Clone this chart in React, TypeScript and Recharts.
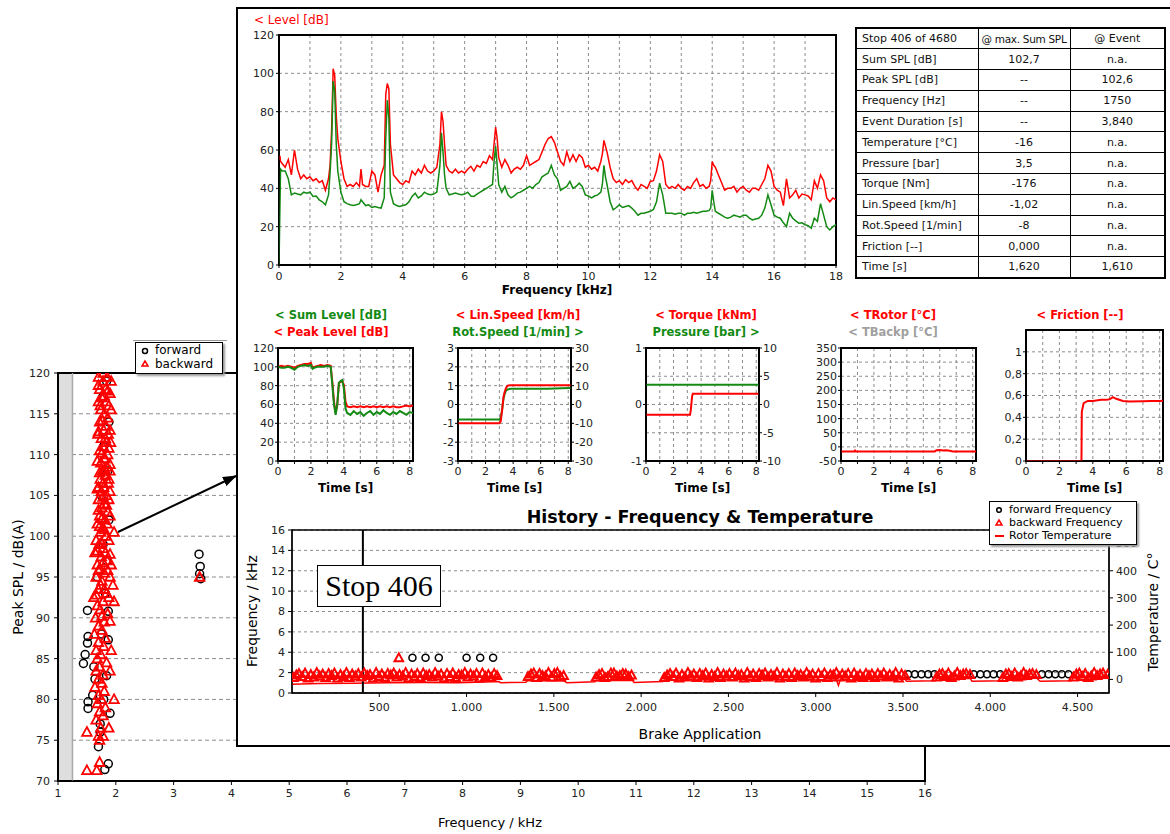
import React from 'react';
import {
  ComposedChart,
  Line,
  Scatter,
  XAxis,
  YAxis,
  CartesianGrid,
  ReferenceArea,
  ReferenceLine,
} from 'recharts';

const RED = '#ff0000';
const GREEN = '#138a13';
const GRID = '#8c8c8c';
const FONT = '"DejaVu Sans", Verdana, sans-serif';
const TICK = { fontSize: 11, fill: '#222' };

// ---- spectrum (level over frequency)
const spectrumFreq = [
  0, 0.03, 0.05, 0.1, 0.2, 0.3, 0.4, 0.5, 0.6, 0.7,
  0.8, 0.9, 1.0, 1.1, 1.2, 1.3, 1.4, 1.5, 1.6, 1.65,
  1.7, 1.75, 1.8, 1.85, 1.9, 2.0, 2.1, 2.2, 2.3, 2.4,
  2.5, 2.6, 2.65, 2.7, 2.8, 2.9, 3.0, 3.1, 3.2, 3.3,
  3.4, 3.45, 3.5, 3.55, 3.6, 3.7, 3.8, 3.9, 4.0, 4.1,
  4.2, 4.3, 4.4, 4.5, 4.6, 4.7, 4.8, 4.9, 5.0, 5.1,
  5.2, 5.25, 5.3, 5.35, 5.4, 5.5, 5.6, 5.7, 5.8, 5.9,
  6.0, 6.1, 6.2, 6.3, 6.4, 6.5, 6.6, 6.7, 6.8, 6.9,
  6.95, 7.0, 7.05, 7.1, 7.2, 7.3, 7.4, 7.5, 7.6, 7.7,
  7.8, 7.9, 8.0, 8.1, 8.2, 8.3, 8.4, 8.5, 8.6, 8.7,
  8.8, 8.9, 9.0, 9.1, 9.2, 9.3, 9.4, 9.5, 9.6, 9.7,
  9.8, 9.9, 10.0, 10.1, 10.2, 10.3, 10.4, 10.45, 10.5, 10.55,
  10.6, 10.7, 10.8, 10.9, 11.0, 11.1, 11.2, 11.3, 11.4, 11.5,
  11.6, 11.7, 11.8, 11.9, 12.0, 12.1, 12.2, 12.3, 12.4, 12.5,
  12.6, 12.7, 12.8, 12.9, 13.0, 13.1, 13.2, 13.3, 13.4, 13.5,
  13.6, 13.7, 13.8, 13.9, 13.95, 14.0, 14.05, 14.1, 14.2, 14.3,
  14.4, 14.5, 14.6, 14.7, 14.8, 14.9, 15.0, 15.1, 15.2, 15.3,
  15.4, 15.5, 15.6, 15.7, 15.8, 15.9, 16.0, 16.1, 16.2, 16.3,
  16.4, 16.5, 16.6, 16.7, 16.8, 16.9, 17.0, 17.1, 17.2, 17.3,
  17.4, 17.5, 17.6, 17.7, 17.8, 17.9, 18.0,
];
const spectrumPeak = [
  55, 57, 54, 53, 51, 55, 47, 60, 50, 45,
  47, 45, 46, 44, 45, 43, 44, 39, 45, 52,
  70, 102.4, 99, 78, 66, 54, 45, 41, 42, 41,
  43, 41, 50, 42, 41, 41, 49, 47, 38, 47,
  52, 89, 94.7, 92, 63, 47, 45, 43, 42, 44,
  43, 49, 47, 50, 48, 52, 49, 48, 49, 51,
  63, 80, 75, 63, 52, 49, 48, 50, 48, 49,
  48, 50, 51.5, 49, 52, 51, 54, 53, 57, 55,
  63, 72, 66, 56, 51, 55, 52, 48, 50, 51,
  50, 52, 57, 52, 53, 54, 55, 59, 63, 66,
  67, 64, 59, 54, 52, 59, 54, 57.5, 54, 57.5,
  56, 51, 52, 50, 51, 49, 54, 58, 65, 62,
  59, 51, 45, 43, 44, 42, 44.5, 43, 44, 41,
  39, 42, 41, 40, 43.6, 44, 49, 57.5, 54, 42,
  40, 41, 40, 42, 40, 39, 41, 40, 43, 45,
  41, 42, 40, 41, 44, 54, 52, 51, 47, 43,
  39, 40, 40, 41, 38, 40, 41, 39, 38, 40,
  40, 39, 42, 45, 52, 49, 41, 39, 38, 31,
  45, 35, 36.6, 39, 35, 37, 36.6, 36, 34, 44,
  40, 47, 44, 35, 33, 35, 34,
];
const spectrumSum = [
  0, 30, 50, 49, 49, 45, 36.6, 37.5, 37, 36.6,
  38, 37.5, 38, 35.8, 36, 34, 33, 31.4, 36.6, 48,
  63, 96, 90.7, 63, 49, 38, 33, 32, 31.4, 31,
  31.4, 32, 34, 33, 31, 31.4, 30, 30.5, 30, 29.7,
  35, 66, 86, 77, 38, 32, 31, 30.5, 31, 31.4,
  33, 35.8, 37.5, 35, 36, 38, 37, 36.6, 37, 38,
  52, 69, 59, 47, 40, 36.6, 37, 37.5, 37, 36.6,
  37, 38, 36, 35.8, 37, 38, 39, 40, 41, 42,
  54, 62, 52, 42, 38, 41, 36.6, 35, 36, 37.5,
  38, 39, 40, 41, 40, 42, 43, 46, 47, 48,
  52, 47, 45, 39, 40, 41, 43.6, 40, 41, 42.7,
  41, 36.6, 36, 35, 36, 36.6, 38, 42, 52, 46,
  42, 33, 28.8, 30, 31.4, 30, 30.5, 31, 29.7, 28,
  26, 27, 27, 27.5, 28, 29, 33, 42.7, 36.6, 27,
  27, 27, 26.5, 27, 27, 26, 27, 27, 27.5, 27,
  27.5, 28, 28, 28.5, 29.7, 39, 33, 28, 27, 26,
  25, 24.4, 25, 26, 25.5, 25, 26, 26, 24.5, 23.5,
  24, 24.4, 26, 29.7, 36.6, 31.4, 26, 25, 24.4, 22,
  20, 27, 24.4, 23, 21.8, 22, 21, 20.5, 19.2, 24.4,
  22.7, 32, 26, 20, 18.3, 20, 21,
];
const spectrumTicks = [0, 1, 2, 3, 4, 5, 6, 7, 8, 9, 10, 11, 12, 13, 14, 15, 16, 17, 18];
const spectrumTickLabels = ['0', '', '2', '', '4', '', '6', '', '8', '', '10', '', '12', '', '14', '', '16', '', '18'];
const levelTicks = [0, 20, 40, 60, 80, 100, 120];

// ---- result table
const tableRows = [
  ['Stop 406 of 4680', '@ max. Sum SPL', '@ Event'],
  ['Sum SPL [dB]', '102,7', 'n.a.'],
  ['Peak SPL [dB]', '--', '102,6'],
  ['Frequency [Hz]', '--', '1750'],
  ['Event Duration [s]', '--', '3,840'],
  ['Temperature [°C]', '-16', 'n.a.'],
  ['Pressure [bar]', '3,5', 'n.a.'],
  ['Torque [Nm]', '-176', 'n.a.'],
  ['Lin.Speed [km/h]', '-1,02', 'n.a.'],
  ['Rot.Speed [1/min]', '-8', 'n.a.'],
  ['Friction [--]', '0,000', 'n.a.'],
  ['Time [s]', '1,620', '1,610'],
];

// ---- time signals of stop 406
const timeTicks = [0, 1, 2, 3, 4, 5, 6, 7, 8];
const timeTickLabels = ['0', '', '2', '', '4', '', '6', '', '8'];

const levelTime = [
  0, 0.2, 0.4, 0.6, 0.8, 1.0, 1.2, 1.4, 1.6, 1.8,
  2.0, 2.1, 2.2, 2.4, 2.6, 2.8, 3.0, 3.2, 3.3, 3.4,
  3.5, 3.6, 3.7, 3.8, 3.9, 4.0, 4.1, 4.2, 4.4, 4.6,
  4.8, 5.0, 5.2, 5.4, 5.6, 5.8, 6.0, 6.2, 6.4, 6.6,
  6.8, 7.0, 7.2, 7.4, 7.6, 7.8, 8.0, 8.2,
];
const peakLevel = [
  100, 101, 100, 101, 100, 99, 101, 102, 103, 103,
  104, 99, 100, 101, 102, 101, 102, 101, 84, 63,
  51, 60, 83, 84, 85, 81, 63, 58, 57, 58,
  57, 58, 57, 58, 57, 58, 57, 58, 57, 58,
  57, 58, 57, 57, 58, 59, 58, 59,
];
const sumLevel = [
  100, 99, 99, 100, 99, 97, 100, 101, 102, 101,
  102, 98, 99, 100, 100, 100, 101, 100, 81, 60,
  49, 60, 83, 85, 86, 77, 56, 51, 49, 53,
  50, 52, 48, 51, 53, 49, 52, 50, 54, 51,
  49, 52, 50, 53, 51, 49, 52, 51,
];

const speedTime = [0, 3.0, 3.1, 3.2, 3.3, 3.4, 3.5, 3.6, 3.8, 4.5, 5.5, 6.5, 7.5, 8.2];
const linSpeed = [-1, -1, -0.9, -0.3, 0.4, 0.7, 0.9, 1.0, 1.02, 1.02, 1.02, 1.02, 1.02, 1.02];
const rotSpeed = [-8, -8, -7, -3, 3, 6, 7.5, 8, 8.3, 8.4, 8.3, 8.4, 8.6, 8.7];

const torqueTime = [0, 3.2, 3.25, 3.35, 3.4, 8.2];
const torque = [-0.18, -0.18, -0.1, 0.15, 0.19, 0.19];
const pressure = [3.5, 3.5, 3.5, 3.5, 3.5, 3.5];

const rotorTime = [0, 0.8, 0.85, 0.9, 5.7, 5.8, 6.0, 6.2, 6.4, 6.6, 6.8, 8.2];
const rotorTemp = [-16, -16, -13, -16, -16, -12, -11, -13, -12, -14, -16, -16];

const frictionTime = [0, 3.32, 3.34, 3.45, 3.7, 4.0, 4.5, 4.8, 5.0, 5.2, 5.4, 5.8, 6.2, 7.0, 7.5, 8.0, 8.2];
const friction = [0, 0, 0.45, 0.53, 0.55, 0.55, 0.56, 0.56, 0.565, 0.585, 0.57, 0.55, 0.545, 0.548, 0.55, 0.55, 0.552];
const frictionTicks = [0, 0.2, 0.4, 0.6, 0.8, 1];
const frictionTickLabels = ['0', '0,2', '0,4', '0,6', '0,8', '1'];

// ---- history over brake applications
const historyTicks = [500, 1000, 1500, 2000, 2500, 3000, 3500, 4000, 4500];
const historyTickLabels = ['500', '1.000', '1.500', '2.000', '2.500', '3.000', '3.500', '4.000', '4.500'];
const historyFreqTicks = [0, 2, 4, 6, 8, 10, 12, 14, 16];
const historyTempTicks = [0, 100, 200, 300, 400, 500];

const backwardStops = [
  8, 25, 40, 58, 75, 92, 108, 125, 142, 159,
  176, 193, 210, 227, 243, 261, 278, 295, 312, 329,
  345, 363, 380, 397, 414, 431, 447, 465, 482, 499,
  515, 532, 549, 566, 583, 600, 616, 634, 651, 668,
  685, 702, 718, 735, 752, 769, 786, 803, 820, 837,
  854, 871, 888, 905, 921, 938, 955, 972, 990, 1006,
  1023, 1040, 1057, 1074, 1091, 1108, 1125, 1142, 1158, 1175,
  1352, 1369, 1385, 1402, 1418, 1435, 1452, 1469, 1486, 1503, 1520, 1538, 1556,
  1742, 1759, 1776, 1793, 1810, 1827, 1844, 1861, 1878, 1895, 1912, 1929, 1945,
  2132, 2149, 2166, 2183, 2200, 2217, 2234, 2251, 2268, 2285,
  2302, 2319, 2336, 2353, 2370, 2387, 2404, 2421, 2438, 2455,
  2472, 2489, 2506, 2523, 2540, 2557, 2574, 2591, 2608, 2625,
  2642, 2659, 2676, 2693, 2710, 2727, 2744, 2761, 2778, 2795,
  2812, 2829, 2846, 2863, 2880, 2897, 2914, 2931, 2948, 2965,
  2982, 2999, 3016, 3033, 3050, 3067, 3084, 3101, 3118, 3135,
  3152, 3169, 3186, 3203, 3220, 3237, 3254, 3271, 3288, 3305,
  3322, 3339, 3356, 3373, 3390, 3407, 3424, 3441, 3458, 3475,
  3492, 3512,
  3692, 3709, 3726, 3743, 3760, 3777, 3794, 3811, 3828, 3845, 3862, 3884,
  4072, 4089, 4106, 4123, 4140, 4157, 4174, 4191, 4208, 4225, 4242, 4264,
  4476, 4493, 4510, 4527, 4544, 4561, 4578, 4595, 4612, 4629, 4646, 4672,
  612,
];
const backwardFreq = [
  1.5, 1.75, 1.9, 1.6, 1.95, 1.45, 1.8, 1.55, 2.0, 1.65,
  1.85, 1.5, 1.9, 1.7, 1.95, 1.45, 1.8, 1.6, 2.0, 1.5,
  1.85, 1.65, 1.9, 1.55, 1.95, 1.7, 1.8, 1.45, 2.0, 1.6,
  1.85, 1.5, 1.9, 1.75, 1.95, 1.55, 1.8, 1.65, 2.0, 1.45,
  1.85, 1.6, 1.9, 1.5, 1.95, 1.7, 1.8, 1.55, 2.0, 1.65,
  1.85, 1.45, 1.9, 1.6, 1.95, 1.5, 1.8, 1.75, 2.0, 1.55,
  1.85, 1.65, 1.9, 1.45, 1.95, 1.6, 1.8, 1.5, 1.9, 1.7,
  1.6, 1.85, 1.95, 1.5, 1.9, 1.7, 1.65, 2.0, 1.55, 1.9, 2.0, 1.6, 1.7,
  1.55, 1.8, 1.9, 1.5, 1.6, 1.95, 1.95, 1.65, 1.7, 1.9, 1.85, 1.6, 1.75,
  1.5, 1.75, 1.9, 1.6, 1.95, 1.45, 1.8, 1.55, 2.0, 1.65,
  1.85, 1.5, 1.9, 1.7, 1.95, 1.45, 1.8, 1.6, 2.0, 1.5,
  1.85, 1.65, 1.9, 1.55, 1.95, 1.7, 1.8, 1.45, 2.0, 1.6,
  1.85, 1.5, 1.9, 1.75, 1.95, 1.55, 1.8, 1.65, 2.0, 1.45,
  1.85, 1.6, 1.9, 1.5, 1.95, 1.7, 1.8, 1.55, 2.0, 1.65,
  1.85, 1.45, 1.9, 1.6, 1.95, 1.5, 1.8, 1.75, 2.0, 1.55,
  1.85, 1.65, 1.9, 1.45, 1.95, 1.6, 1.8, 1.5, 1.9, 1.7,
  1.85, 1.5, 1.9, 1.65, 1.95, 1.55, 1.8, 1.6, 2.0, 1.45,
  1.85, 1.7,
  1.55, 1.85, 1.9, 1.6, 1.95, 1.5, 1.65, 2.0, 1.7, 1.85, 1.9, 1.8,
  1.5, 1.85, 1.9, 1.6, 1.95, 1.55, 1.65, 2.0, 1.7, 1.85, 1.9, 1.8,
  1.55, 1.85, 1.95, 1.6, 1.9, 1.5, 1.65, 2.0, 1.7, 1.85, 1.95, 1.8,
  3.45,
];
const forwardStops = [
  690, 765, 841, 1000, 1078, 1152,
  3530, 3568, 3606, 3644, 3680,
  3905, 3943, 3981, 4019, 4057,
  4296, 4334, 4372, 4410, 4448,
];
const forwardFreq = [
  3.45, 3.45, 3.45, 3.45, 3.45, 3.45,
  1.85, 1.85, 1.85, 1.85, 1.85,
  1.85, 1.85, 1.85, 1.85, 1.85,
  1.85, 1.85, 1.85, 1.85, 1.85,
];
const rotorStops = [
  0, 150, 350, 550, 750, 950, 1150, 1185, 1195, 1340, 1350, 1560, 1575, 1735, 1745, 1950, 1960, 2125,
  2135, 2500, 2800, 3120, 3130, 3140, 3510, 3520, 3685, 3695, 3885, 3895, 4065, 4075, 4265, 4285,
  4465, 4475, 4680,
];
const rotorHistoryTemp = [
  -18, -15, -14, -12, -11, -12, -9, -8, -12, -10, -4, -6, -12, -9, -3, -4, -11, -8,
  -2, -1, 0, -3, -22, -3, 2, -7, -5, 3, 4, -7, -5, 4, 5, -7,
  -5, 6, 7,
];

// ---- peak SPL over frequency (all stops)
const splFreqTicks = [1, 2, 3, 4, 5, 6, 7, 8, 9, 10, 11, 12, 13, 14, 15, 16];
const splLevelTicks = [70, 75, 80, 85, 90, 95, 100, 105, 110, 115, 120];
const splBackwardFreq = [
  1.85, 1.78, 1.82, 1.9, 1.76, 1.84, 1.88, 1.74, 1.8, 1.86,
  1.72, 1.83, 1.79, 1.87, 1.75, 1.84, 1.91, 1.78, 1.72, 1.86,
  1.8, 1.74, 1.85, 1.77, 1.82, 1.73, 1.87, 1.79, 1.75, 1.84,
  1.7, 1.8, 1.76, 1.86, 1.72, 1.81, 1.68, 1.77, 1.74, 1.97,
  1.83, 1.66, 1.71, 1.78, 1.64, 1.75, 1.85, 1.68, 1.92, 1.73,
  1.8, 1.66, 1.9, 1.76, 1.95, 1.7, 1.84, 1.62, 1.97, 1.78,
  1.68, 1.73, 1.86, 1.65, 1.8, 1.7, 1.76, 1.63, 1.82, 1.7,
  1.79, 1.66, 1.92, 1.74, 1.68, 1.84, 1.72, 1.66, 1.78, 1.9,
  1.7, 1.76, 1.64, 1.8, 1.7, 1.97, 1.75, 1.68, 1.82, 1.72,
  1.78, 1.66, 1.74, 1.88, 1.5, 1.7, 1.78, 1.72, 1.5, 1.67,
  1.72, 3.45, 1.7, 1.73, 1.69, 1.9, 1.7, 1.88, 1.78, 1.81,
  1.7, 1.92, 1.72, 1.86, 1.8, 1.7, 1.92, 1.77, 1.9, 1.7,
  1.82, 1.88, 1.76, 1.68, 1.9, 1.81, 1.72, 1.88, 1.78, 1.68,
  1.9, 1.78, 1.84, 1.7, 1.9, 1.76, 1.85, 1.72, 1.8, 1.88,
  1.75, 1.68, 1.82, 1.9, 1.78, 1.7, 1.86, 1.74, 1.8, 1.88,
  1.66, 1.76, 1.9,
];
const splBackwardLevel = [
  119.5, 119, 118, 117.5, 117, 116.5, 116, 115.5, 115, 114.5,
  114, 113.5, 113, 112.5, 112, 111.5, 111.5, 111, 110.5, 110,
  109.5, 109, 108.5, 108, 107.5, 107, 106.5, 106, 105.5, 105,
  104.5, 104, 103.5, 103, 102.5, 102, 101.5, 101, 100.5, 100.5,
  100, 99.5, 99, 98.5, 98, 97.5, 97, 96.5, 96.5, 96,
  95.5, 95, 95, 94.5, 94, 93.5, 93, 92.5, 92, 92,
  91.5, 91, 90.5, 90, 89.5, 89, 88.5, 88, 87.5, 87,
  86.5, 86, 86, 85.5, 85, 84.5, 84, 83.5, 83, 83.5,
  82.5, 82, 81.5, 81, 80.5, 80, 80, 79.5, 79, 78.5,
  78, 77.5, 76.5, 76.5, 76, 75.5, 75.5, 75, 71.3, 71.3,
  72.3, 95, 118.5, 116, 112.5, 108, 106, 104.5, 120, 109.5,
  119.5, 119, 118, 117.8, 117.2, 116.5, 115.5, 114.2, 113, 112.8,
  112, 110.8, 110.2, 109.2, 108.8, 108.2, 107.8, 107, 106.5, 105.8,
  105.5, 104.8, 103.8, 103.2, 102.5, 102.2, 101.5, 101.2, 100.8, 99.5,
  99.2, 98.2, 98, 97.8, 96.8, 95.8, 95.8, 94, 93.5, 92.5,
  92.8, 90.2, 89.6,
];
const splForwardFreq = [
  1.44, 1.52, 1.51, 1.51, 1.52, 1.52, 1.47, 1.7, 1.87, 1.81,
  1.87, 1.87, 1.9, 1.84, 1.64, 1.73, 1.73, 1.79, 1.6, 1.62,
  1.75, 1.82, 1.68, 1.85, 1.78, 1.88, 1.75, 1.86, 1.79, 1.88,
  1.77, 1.84, 3.44, 3.46, 3.47, 3.45,
];
const splForwardLevel = [
  84.4, 87.7, 86.9, 90.9, 79.7, 78.9, 85.5, 74.2, 72.1, 71.4,
  90.8, 87.3, 78.3, 82.9, 82.5, 76, 77, 80, 80.5, 84,
  88, 93, 95, 97, 99, 102, 105, 108, 111, 114,
  117, 119, 97.8, 96.3, 94.8, 95.4,
];

const zip = (xs: number[], ys: number[]) => xs.map((x, i) => ({ x, y: ys[i] }));

const ring = (r: number) => (p: any) => (
  <circle cx={p.cx} cy={p.cy} r={r} fill="none" stroke="#000" strokeWidth={1.5} />
);
const tri = (s: number, w: number) => (p: any) => (
  <path
    d={`M${p.cx},${p.cy - s} L${p.cx + s * 0.95},${p.cy + s * 0.75} L${p.cx - s * 0.95},${p.cy + s * 0.75} Z`}
    fill="none"
    stroke={RED}
    strokeWidth={w}
  />
);

function Text({ x, y, text, size = 12, color = '#000', bold = false, rotate = false, family }: {
  x: number; y: number; text: string; size?: number; color?: string; bold?: boolean; rotate?: boolean; family?: string;
}) {
  return (
    <div
      style={{
        position: 'absolute',
        left: x,
        top: y,
        transform: `translate(-50%, -50%)${rotate ? ' rotate(-90deg)' : ''}`,
        whiteSpace: 'nowrap',
        fontSize: size,
        fontWeight: bold ? 700 : 400,
        color,
        lineHeight: 1,
        fontFamily: family,
      }}
    >
      {text}
    </div>
  );
}

function PeakSplChart() {
  const LW = 50, TOP = 10, BOTTOM = 30, RIGHT = 12;
  const plot = { x: 58, y: 373, w: 867, h: 408 };
  return (
    <>
      <div style={{ position: 'absolute', left: plot.x - LW, top: plot.y - TOP }}>
        <ComposedChart width={LW + plot.w + RIGHT} height={TOP + plot.h + BOTTOM} margin={{ top: TOP, right: RIGHT, left: 0, bottom: 0 }}>
          <ReferenceArea x1={1} x2={1.25} y1={70} y2={120} fill="#dedede" fillOpacity={1} stroke="none" />
          <CartesianGrid vertical={false} stroke={GRID} strokeDasharray="4 3" />
          <ReferenceLine x={1.25} stroke="#a8a8a8" strokeWidth={1.5} />
          <XAxis type="number" dataKey="x" domain={[1, 16]} ticks={splFreqTicks} interval={0} allowDataOverflow height={BOTTOM}
            tickSize={4} tickMargin={4} stroke="#000" tick={TICK} />
          <YAxis type="number" dataKey="y" domain={[70, 120]} ticks={splLevelTicks} interval={0} allowDataOverflow width={LW}
            tickSize={4} tickMargin={4} stroke="#000" tick={TICK} />
          <Scatter data={zip(splForwardFreq, splForwardLevel)} shape={ring(4)} isAnimationActive={false} />
          <Scatter data={zip(splBackwardFreq, splBackwardLevel)} shape={tri(5, 1.8)} isAnimationActive={false} />
          <ReferenceArea x1={1} x2={16} y1={70} y2={120} fill="none" stroke="#000" strokeWidth={2} />
        </ComposedChart>
      </div>
      <Text x={18} y={577} text="Peak SPL / dB(A)" size={14} rotate />
      <Text x={490} y={822} text="Frequency / kHz" size={13} />
      <div style={{ position: 'absolute', left: 133, top: 340, width: 94, height: 1, background: '#999' }} />
      <div style={{ position: 'absolute', left: 135, top: 342, width: 88, height: 32, border: '1px solid #000', background: '#fff', boxShadow: '2px 2px 2px #999', boxSizing: 'border-box', fontSize: 12 }}>
        <svg width={14} height={30} style={{ position: 'absolute', left: 2, top: 0 }}>
          <circle cx={7} cy={8} r={2.5} fill="none" stroke="#000" strokeWidth={1.5} />
          <path d="M7,18 L10,23 L4,23 Z" fill="none" stroke={RED} strokeWidth={1.5} />
        </svg>
        <div style={{ position: 'absolute', left: 19, top: 1, lineHeight: '13px' }}>forward</div>
        <div style={{ position: 'absolute', left: 19, top: 15, lineHeight: '13px' }}>backward</div>
      </div>
    </>
  );
}

function Arrow() {
  return (
    <svg width={1170} height={834} style={{ position: 'absolute', left: 0, top: 0 }}>
      <defs>
        <marker id="head" markerWidth="14" markerHeight="10" refX="13" refY="5" orient="auto" markerUnits="userSpaceOnUse">
          <path d="M0,0 L14,5 L0,10 Z" fill="#000" />
        </marker>
      </defs>
      <line x1={118} y1={532} x2={236} y2={476} stroke="#000" strokeWidth={2} markerEnd="url(#head)" />
    </svg>
  );
}

function SpectrumChart() {
  const LW = 36, TOP = 8, RIGHT = 12, BOTTOM = 22;
  const plot = { x: 279, y: 35, w: 557, h: 230 };
  const data = spectrumFreq.map((x, i) => ({ x, peak: spectrumPeak[i], sum: spectrumSum[i] }));
  return (
    <>
      <div style={{ position: 'absolute', left: 254, top: 13, fontSize: 12, color: RED, whiteSpace: 'nowrap', lineHeight: '14px' }}>
        &lt; Level [dB]
      </div>
      <div style={{ position: 'absolute', left: plot.x - LW, top: plot.y - TOP }}>
        <ComposedChart data={data} width={LW + plot.w + RIGHT} height={TOP + plot.h + BOTTOM} margin={{ top: TOP, right: RIGHT, left: 0, bottom: 0 }}>
          <CartesianGrid stroke={GRID} strokeDasharray="3 3" />
          <XAxis type="number" dataKey="x" domain={[0, 18]} ticks={spectrumTicks} interval={0} allowDataOverflow height={BOTTOM}
            tickFormatter={(v) => spectrumTickLabels[spectrumTicks.indexOf(v)]}
            tickSize={3} tickMargin={4} stroke="#000" tick={TICK} />
          <YAxis type="number" domain={[0, 120]} ticks={levelTicks} interval={0} allowDataOverflow width={LW}
            tickSize={3} tickMargin={2} stroke="#000" tick={TICK} />
          <Line dataKey="peak" stroke={RED} strokeWidth={1.5} dot={false} type="linear" isAnimationActive={false} />
          <Line dataKey="sum" stroke={GREEN} strokeWidth={1.5} dot={false} type="linear" isAnimationActive={false} />
          <ReferenceArea x1={0} x2={18} y1={0} y2={120} fill="none" stroke="#000" strokeWidth={2} />
        </ComposedChart>
      </div>
      <Text x={557} y={290} text="Frequency [kHz]" size={12} bold />
    </>
  );
}

function ResultTable() {
  return (
    <table
      style={{
        position: 'absolute', left: 855, top: 27, width: 309, height: 251, borderCollapse: 'collapse',
        tableLayout: 'fixed', fontSize: 11, border: '2px solid #000', fontFamily: FONT,
      }}
    >
      <colgroup>
        <col style={{ width: 122 }} />
        <col style={{ width: 92 }} />
        <col style={{ width: 95 }} />
      </colgroup>
      <tbody>
        {tableRows.map((row, i) => (
          <tr key={i} style={{ height: 20.8 }}>
            {row.map((cell, j) => (
              <td
                key={j}
                style={{
                  border: '1px solid #000', padding: j === 0 ? '0 0 0 5px' : 0, textAlign: j === 0 ? 'left' : 'center',
                  whiteSpace: 'nowrap', overflow: 'hidden', color: '#111',
                  fontSize: i === 0 && j === 1 ? 10.5 : 11,
                  letterSpacing: i === 0 && j === 1 ? -0.3 : 0,
                }}
              >
                {cell}
              </td>
            ))}
          </tr>
        ))}
      </tbody>
    </table>
  );
}

interface TimeSeries { data: { x: number; y: number }[]; color: string; axis: 'l' | 'r' }

function TimeChart({ plot, titles, titleX, lDomain, lTicks, lLabels, rDomain, rTicks, gridAxis = 'l', series }: {
  plot: { x: number; y: number; w: number; h: number };
  titles: { text: string; color: string }[];
  titleX: number;
  lDomain: [number, number];
  lTicks: number[];
  lLabels?: string[];
  rDomain?: [number, number];
  rTicks?: number[];
  gridAxis?: 'l' | 'r';
  series: TimeSeries[];
}) {
  const LW = 34, RW = rDomain ? 34 : 8, TOP = 8, BOTTOM = 20;
  return (
    <>
      {titles.map((t, i) => (
        <Text key={i} x={titleX} y={316 + i * 17} text={t.text} size={11.5} color={t.color} bold />
      ))}
      <div style={{ position: 'absolute', left: plot.x - LW, top: plot.y - TOP }}>
        <ComposedChart width={LW + plot.w + RW} height={TOP + plot.h + BOTTOM}
          margin={{ top: TOP, right: rDomain ? 0 : RW, left: 0, bottom: 0 }}>
          <CartesianGrid yAxisId={gridAxis} stroke={GRID} strokeDasharray="3 3" />
          <XAxis type="number" dataKey="x" domain={[0, 8.2]} ticks={timeTicks} interval={0} allowDataOverflow height={BOTTOM}
            tickFormatter={(v) => timeTickLabels[timeTicks.indexOf(v)]}
            tickSize={3} tickMargin={3} stroke="#000" tick={TICK} />
          <YAxis yAxisId="l" type="number" dataKey="y" domain={lDomain} ticks={lTicks} interval={0} allowDataOverflow width={LW}
            tickFormatter={(v) => (lLabels ? lLabels[lTicks.indexOf(v)] : String(v))}
            tickSize={3} tickMargin={1} stroke="#000" tick={TICK} />
          {rDomain && (
            <YAxis yAxisId="r" orientation="right" type="number" dataKey="y" domain={rDomain} ticks={rTicks} interval={0}
              allowDataOverflow width={RW} tickSize={3} tickMargin={1} stroke="#000" tick={TICK} />
          )}
          {series.map((s, i) => (
            <Line key={i} yAxisId={s.axis} data={s.data} dataKey="y" stroke={s.color} strokeWidth={2}
              dot={false} type="linear" isAnimationActive={false} />
          ))}
          <ReferenceArea yAxisId="l" x1={0} x2={8.2} y1={lDomain[0]} y2={lDomain[1]} fill="none" stroke="#000" strokeWidth={2} />
        </ComposedChart>
      </div>
      <Text x={plot.x + plot.w / 2} y={488} text="Time [s]" size={12} bold />
    </>
  );
}

function HistoryChart() {
  const LW = 40, RW = 45, TOP = 8, BOTTOM = 26;
  const plot = { x: 292, y: 530, w: 817, h: 163 };
  return (
    <>
      <Text x={700} y={518} text="History - Frequency & Temperature" size={17.5} bold />
      <div style={{ position: 'absolute', left: plot.x - LW, top: plot.y - TOP }}>
        <ComposedChart width={LW + plot.w + RW} height={TOP + plot.h + BOTTOM} margin={{ top: TOP, right: 0, left: 0, bottom: 0 }}>
          <CartesianGrid yAxisId="f" vertical={false} stroke={GRID} strokeDasharray="3 3" />
          <XAxis type="number" dataKey="x" domain={[0, 4680]} ticks={historyTicks} interval={0} allowDataOverflow height={BOTTOM}
            tickFormatter={(v) => historyTickLabels[historyTicks.indexOf(v)]}
            tickSize={4} tickMargin={6} stroke="#000" tick={TICK} />
          <YAxis yAxisId="f" type="number" dataKey="y" domain={[0, 16]} ticks={historyFreqTicks} interval={0} allowDataOverflow width={LW}
            tickSize={4} tickMargin={3} stroke="#000" tick={TICK} />
          <YAxis yAxisId="t" orientation="right" type="number" dataKey="y" domain={[-50, 550]} ticks={historyTempTicks} interval={0}
            allowDataOverflow width={RW} tickSize={4} tickMargin={3} stroke="#000" tick={TICK} />
          <Line yAxisId="t" data={zip(rotorStops, rotorHistoryTemp)} dataKey="y" stroke={RED} strokeWidth={1.5}
            dot={false} type="linear" isAnimationActive={false} />
          <Scatter yAxisId="f" data={zip(forwardStops, forwardFreq)} shape={ring(3.5)} isAnimationActive={false} />
          <Scatter yAxisId="f" data={zip(backwardStops, backwardFreq)} shape={tri(4.5, 2)} isAnimationActive={false} />
          <ReferenceLine yAxisId="f" x={406} stroke="#000" strokeWidth={2} />
          <ReferenceArea yAxisId="f" x1={0} x2={4680} y1={0} y2={16} fill="none" stroke="#000" strokeWidth={1.5} />
        </ComposedChart>
      </div>
      <Text x={252} y={611} text="Frequency / kHz" size={14} rotate />
      <Text x={1153} y={612} text="Temperature / C°" size={14} rotate />
      <Text x={700} y={734} text="Brake Application" size={14} />
      <div style={{ position: 'absolute', left: 317, top: 565, width: 124, height: 42, border: '1.5px solid #000', background: '#fff', boxSizing: 'border-box' }}>
        <Text x={61} y={20} text="Stop 406" size={30} family='"Liberation Serif", "Times New Roman", serif' />
      </div>
      <div style={{ position: 'absolute', left: 989, top: 501, width: 148, height: 44, border: '1px solid #000', background: '#fff', boxShadow: '2px 2px 2px #999', boxSizing: 'border-box', fontSize: 11 }}>
        <svg width={16} height={42} style={{ position: 'absolute', left: 2, top: 0 }}>
          <circle cx={7} cy={8} r={2.3} fill="none" stroke="#000" strokeWidth={1.5} />
          <path d="M7,18 L10,23 L4,23 Z" fill="none" stroke={RED} strokeWidth={1.5} />
          <line x1={3} y1={34} x2={12} y2={34} stroke={RED} strokeWidth={2} />
        </svg>
        <div style={{ position: 'absolute', left: 19, top: 1, lineHeight: '13px' }}>forward Frequency</div>
        <div style={{ position: 'absolute', left: 19, top: 14, lineHeight: '13px' }}>backward Frequency</div>
        <div style={{ position: 'absolute', left: 19, top: 27, lineHeight: '13px' }}>Rotor Temperature</div>
      </div>
    </>
  );
}

export default function App() {
  return (
    <div
      style={{
        position: 'absolute', left: 0, top: 0, width: 1170, height: 834, overflow: 'hidden',
        background: '#fff', fontFamily: FONT, color: '#000',
      }}
    >
      <PeakSplChart />
      <Arrow />
      <div style={{ position: 'absolute', left: 236, top: 7, width: 1000, height: 740, border: '2px solid #000', background: '#fff', boxSizing: 'border-box' }} />
      <SpectrumChart />
      <ResultTable />
      <TimeChart
        plot={{ x: 278, y: 348, w: 135, h: 113 }}
        titles={[{ text: '< Sum Level [dB]', color: GREEN }, { text: '< Peak Level [dB]', color: RED }]}
        titleX={331}
        lDomain={[0, 120]}
        lTicks={levelTicks}
        series={[
          { data: zip(levelTime, peakLevel), color: RED, axis: 'l' },
          { data: zip(levelTime, sumLevel), color: GREEN, axis: 'l' },
        ]}
      />
      <TimeChart
        plot={{ x: 458, y: 348, w: 113, h: 113 }}
        titles={[{ text: '< Lin.Speed [km/h]', color: RED }, { text: 'Rot.Speed [1/min] >', color: GREEN }]}
        titleX={518}
        lDomain={[-3, 3]}
        lTicks={[-3, -2, -1, 0, 1, 2, 3]}
        rDomain={[-30, 30]}
        rTicks={[-30, -20, -10, 0, 10, 20, 30]}
        series={[
          { data: zip(speedTime, rotSpeed), color: GREEN, axis: 'r' },
          { data: zip(speedTime, linSpeed), color: RED, axis: 'l' },
        ]}
      />
      <TimeChart
        plot={{ x: 646, y: 348, w: 113, h: 113 }}
        titles={[{ text: '< Torque [kNm]', color: RED }, { text: 'Pressure [bar] >', color: GREEN }]}
        titleX={706}
        lDomain={[-1, 1]}
        lTicks={[-1, 0, 1]}
        rDomain={[-10, 10]}
        rTicks={[-10, -5, 0, 5, 10]}
        gridAxis="r"
        series={[
          { data: zip(torqueTime, pressure), color: GREEN, axis: 'r' },
          { data: zip(torqueTime, torque), color: RED, axis: 'l' },
        ]}
      />
      <TimeChart
        plot={{ x: 841, y: 348, w: 135, h: 113 }}
        titles={[{ text: '< TRotor [°C]', color: RED }, { text: '< TBackp [°C]', color: '#a0a0a0' }]}
        titleX={893}
        lDomain={[-50, 350]}
        lTicks={[-50, 0, 50, 100, 150, 200, 250, 300, 350]}
        series={[{ data: zip(rotorTime, rotorTemp), color: RED, axis: 'l' }]}
      />
      <TimeChart
        plot={{ x: 1026, y: 330, w: 137, h: 131 }}
        titles={[{ text: '< Friction [--]', color: RED }]}
        titleX={1080}
        lDomain={[0, 1.2]}
        lTicks={frictionTicks}
        lLabels={frictionTickLabels}
        series={[{ data: zip(frictionTime, friction), color: RED, axis: 'l' }]}
      />
      <HistoryChart />
    </div>
  );
}
